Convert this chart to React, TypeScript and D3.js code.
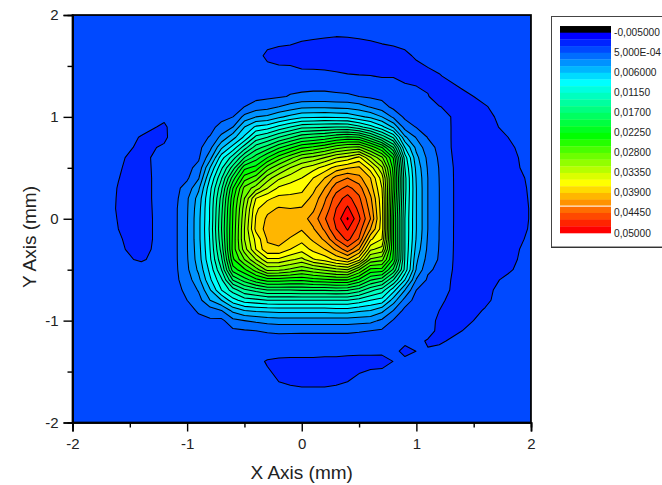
import React, { useEffect, useRef } from 'react';
import * as d3 from 'd3';

const width = 662;
const height = 485;
const margin = { top: 15, right: 131, bottom: 63, left: 72.5 };

const xTicks = [-2, -1, 0, 1, 2];
const yTicks = [-2, -1, 0, 1, 2];
const minorTicks = [-1.5, -0.5, 0.5, 1.5];

// grid node positions in mm, finer where the rings are
const xNodes = [-2, -1.8, -1.6, -1.4, -1.2, -1.1, -1, -0.9, -0.8, -0.7, -0.6, -0.5, -0.4, -0.3, -0.2, -0.1, 0, 0.1, 0.2, 0.3, 0.4, 0.5, 0.6, 0.7, 0.8, 0.9, 1, 1.1, 1.2, 1.4, 1.6, 1.8, 2];
const yNodes = [2, 1.8, 1.6, 1.4, 1.2, 1.1, 1, 0.9, 0.8, 0.7, 0.6, 0.5, 0.4, 0.3, 0.2, 0.1, 0, -0.1, -0.2, -0.3, -0.4, -0.5, -0.6, -0.7, -0.8, -0.9, -1, -1.1, -1.2, -1.3, -1.4, -1.6, -1.8, -2];

const b = 2.73; // flat background, z = 0
const zRows = [
  [b, b, b, b, b, b, b, b, b, b, b, b, b, b, b, b, b, b, b, b, b, b, b, b, b, b, b, b, b, b, b, b, b],
  [b, b, b, b, b, b, b, b, b, b, b, b, b, b, b, 2.5, 2.2, 2.15, 2.1, 2.05, 2.08, 2.15, 2.25, 2.5, b, b, b, b, b, b, b, b, b],
  [b, b, b, b, b, b, b, b, b, b, b, b, 2.5, 1.7, 1.4, 1.45, 1.5, 1.4, 1.3, 1.25, 1.2, 1.25, 1.3, 1.3, 1.33, 1.7, 2.2, b, b, b, b, b, b],
  [b, b, b, b, b, b, b, b, b, b, b, b, b, b, b, 2.6, 2.27, 2.3, 2.3, 2.2, 2.1, 2.05, 2.02, 1.95, 1.95, 1.6, 1.3, 1.45, 1.9, b, b, b, b],
  [b, b, b, b, b, b, b, b, b, b, b, b, b, 2.8, 2.9, 3.05, 3.2, 3.25, 3.25, 3.2, 3.15, 3, 2.85, b, b, b, b, 2.1, 1.2, 1.6, 2.4, b, b],
  [b, b, b, b, b, b, b, b, b, b, b, 3, 3.4, 3.6, 4, 4.4, 4.75, 4.8, 4.8, 4.7, 4.65, 4.4, 3.9, 3.4, b, b, b, 2.6, 2.05, 1.35, 1.9, b, b],
  [b, b, b, b, 2.3, b, b, b, b, b, 3, 4.3, 5, 5.2, 5.8, 6.3, 6.75, 6.8, 6.9, 6.8, 6.7, 6.2, 5.8, 5, 3.8, 2.8, 2.6, 2.7, 2.7, 1.3, 1.5, b, b],
  [b, b, b, 2.5, 1.75, b, b, b, b, 3.3, 4, 6, 7.2, 7.5, 8.3, 9, 9.7, 9.8, 9.9, 10, 10, 9.3, 8.4, 7.3, 5.8, 3.6, 2.95, 2.75, b, 1.3, 1.3, 2.5, b],
  [b, b, b, 1.9, 1.7, b, b, b, 3.05, 4.3, 5.6, 7.2, 9.3, 10, 11, 11.8, 12.7, 13, 13.3, 13.9, 14.2, 14, 12.5, 10.7, 8.8, 5.2, 3.9, 2.95, b, 1.3, 1.25, 2, b],
  [b, b, b, 1.6, 2.2, b, b, b, 3.7, 5.8, 7.4, 9.5, 11.5, 12.5, 13.8, 14.8, 15.8, 16.2, 16.8, 17.6, 18.1, 18.3, 16.7, 15, 12, 7, 4.7, 3.4, 2.75, 1.3, 1.2, 1.7, b],
  [b, b, 2.21, 1.5, b, b, b, 2.85, 4.6, 7.6, 9.5, 12, 13.5, 15, 16.5, 17.7, 18.85, 19.3, 20, 20.9, 21.4, 22.3, 20.1, 18.2, 14.9, 8.5, 5.3, 3.75, 2.85, 1.35, 1.2, 1.4, b],
  [b, b, 2.11, 1.45, b, b, b, 3.3, 6, 8.8, 11.5, 14.7, 15.4, 17.5, 18.8, 20, 20.95, 21.6, 22.4, 23.4, 23.9, 24.2, 22.5, 20.2, 15.6, 9, 5.7, 3.9, 2.95, 1.4, 1.2, 1.3, 2.65],
  [b, b, 2.03, 1.4, b, b, 2.85, 3.9, 7, 9.9, 13.5, 16.5, 17.5, 19.5, 20.8, 21.5, 22, 23, 24, 25.4, 26, 25.3, 24, 21.5, 15.9, 9.3, 5.9, 4, 2.98, 1.4, 1.2, 1.2, 2.3],
  [b, b, 1.95, 1.4, b, b, 3.4, 4.8, 7.7, 10.8, 15, 18.3, 19.5, 21, 22.2, 22.5, 22.7, 23.7, 25, 26.6, 27.3, 26.5, 24.5, 22, 15.8, 9.3, 6, 4, 3, 1.4, 1.15, 1.15, 2.2],
  [b, b, 1.92, 1.4, b, 2.75, 3.85, 5.4, 8, 11.4, 15.7, 19, 22, 22.8, 23.3, 23.3, 23.4, 24.3, 25.8, 27.5, 28.4, 27.2, 25.2, 22.3, 15.5, 9.2, 6, 4, 3, 1.4, 1.1, 1.1, 2.15],
  [b, b, 1.9, 1.35, b, 2.85, 3.9, 5.6, 8.1, 11.7, 16, 19.5, 22.8, 23.7, 24.1, 24, 24.1, 24.8, 26.3, 28, 29.2, 27.7, 25.6, 22.4, 15.2, 9.1, 6, 4, 3, 1.4, 1.1, 1.1, 2.1],
  [b, b, 1.95, 1.3, b, 2.85, 3.93, 5.7, 8.1, 11.9, 16.1, 19.8, 23.1, 24.2, 24.6, 24.7, 24.6, 25.4, 26.9, 28.3, 30.1, 28.2, 26, 22.5, 15, 9, 6, 4, 3, 1.4, 1.1, 1.1, 2.1],
  [b, b, 2, 1.3, b, 2.85, 3.95, 5.7, 8.2, 12, 16.2, 20, 23.3, 24.4, 24.7, 24.5, 24.1, 24.9, 26.2, 28, 29.1, 27.6, 25, 22.5, 15, 9, 6, 4, 2.98, 1.4, 1.1, 1.15, 2.15],
  [b, b, 2.15, 1.3, b, 2.85, 3.95, 5.7, 8.1, 11.8, 16.3, 20, 22.3, 24.1, 24.4, 23.9, 23.35, 24.2, 25.2, 27, 28.3, 26.9, 23.2, 22, 15, 9, 5.9, 3.9, 2.98, 1.4, 1.2, 1.3, 2.3],
  [b, b, 2.24, 1.45, b, 2.85, 3.95, 5.6, 8, 11.4, 16.4, 19.5, 22, 23.8, 23.8, 23, 22.4, 23.3, 24, 25.2, 26.6, 25, 21.2, 20.6, 15, 9, 5.6, 3.8, 2.95, 1.4, 1.2, 1.4, 2.6],
  [b, b, 2.4, 1.8, b, 2.85, 3.9, 5.5, 7.8, 10.8, 15.8, 18, 20, 21.8, 21.8, 21.2, 20.7, 21.9, 22.4, 23.3, 24, 22.3, 18.8, 18.3, 14.8, 8.9, 5.2, 3.6, 2.9, 1.4, 1.3, 1.5, b],
  [b, b, b, b, b, 2.82, 3.8, 5.2, 7.3, 10, 14.5, 15.8, 17.5, 19.3, 19.2, 18.8, 18.2, 18.7, 19.2, 19.7, 20, 18, 15.7, 15.6, 12.8, 8.7, 4.9, 3.15, 2.8, 1.4, 1.35, 1.8, b],
  [b, b, b, b, b, 2.8, 3.5, 4.7, 6.8, 8.8, 12.1, 13.5, 14.7, 15.5, 15.5, 15.3, 15.2, 15.6, 15.8, 16, 16, 14.8, 13.1, 12.4, 10, 7, 3.9, 2.85, 2.6, 1.4, 1.5, 2.3, b],
  [b, b, b, b, b, 2.75, 3.2, 4.1, 5.9, 8, 9.5, 10.8, 11.4, 12, 12, 12, 12.1, 12.1, 12.1, 12.2, 12.1, 11.5, 10.3, 9.5, 7.4, 5, 3, 2.7, 2.5, 1.4, 1.6, b, b],
  [b, b, b, b, b, b, 3, 3.6, 5, 6, 7.6, 8.5, 8.7, 9, 9, 9, 9, 9, 9, 9, 9, 8.6, 8, 7.6, 5.5, 3.6, 2.6, 2.6, 2.2, 1.4, 1.75, b, b],
  [b, b, b, b, b, b, b, 3.1, 3.5, 4, 5.3, 6, 6.2, 6.3, 6.4, 6.4, 6.4, 6.4, 6.4, 6.5, 6.5, 6.2, 6, 5.3, 4, 2.7, 2.6, 2.6, 2, 1.35, 2.1, b, b],
  [b, b, b, b, b, b, b, 2.8, 2.85, 2.75, 3.7, 4, 4.2, 4.4, 4.5, 4.5, 4.5, 4.5, 4.5, 4.5, 4.5, 4.4, 4.3, 3.8, 2.9, 2.6, 2.6, 2.6, 1.7, 1.3, b, b, b],
  [b, b, b, b, b, b, b, b, b, b, 2.8, 2.9, 3, 3.1, 3.2, 3.2, 3.2, 3.2, 3.2, 3.2, 3.2, 3.1, 3, 2.85, 2.6, 2.6, 2.5, 2.6, 1.6, 2, b, b, b],
  [b, b, b, b, b, b, b, b, b, b, b, 2.65, 2.6, 2.6, 2.5, 2.45, 2.4, 2.4, 2.4, 2.4, 2.4, 2.4, 2.45, 2.5, 2.5, 2.4, 2.4, 1.85, 1.7, b, b, b, b],
  [b, b, b, b, b, b, b, b, b, b, b, b, b, 2.5, 2.3, 2.25, 2.25, 2.25, 2.25, 2.25, 2.2, 2.2, 2.2, 2.25, 2.5, 1.5, 2.02, 2.1, 2.5, b, b, b, b],
  [b, b, b, b, b, b, b, b, b, b, b, b, 2.3, 1.9, 1.85, 1.85, 1.85, 1.85, 1.8, 1.8, 1.75, 1.7, 1.7, 1.6, 2.02, 2.45, b, b, b, b, b, b, b],
  [b, b, b, b, b, b, b, b, b, b, b, b, b, 2.3, 2, 1.85, 1.75, 1.75, 1.75, 1.85, 2, 2.2, 2.45, b, b, b, b, b, b, b, b, b, b],
  [b, b, b, b, b, b, b, b, b, b, b, b, b, b, b, b, b, b, b, b, b, b, b, b, b, b, b, b, b, b, b, b, b],
  [b, b, b, b, b, b, b, b, b, b, b, b, b, b, b, b, b, b, b, b, b, b, b, b, b, b, b, b, b, b, b, b, b],
];

const legendLabels = ['-0,005000', '5,000E-04', '0,006000', '0,01150', '0,01700', '0,02250', '0,02800', '0,03350', '0,03900', '0,04450', '0,05000'];

const levelCount = 30;
const rampStops = [1, 8, 16, 23, 30];
const rampColors = ['#0000ff', '#00ffff', '#00ff00', '#ffff00', '#ff0000'];

const App = () => {
  const svgRef = useRef<SVGSVGElement>(null);

  useEffect(() => {
    const svg = d3.select(svgRef.current);
    svg.selectAll('*').remove();

    const innerWidth = 531 - margin.left;
    const innerHeight = height - margin.top - margin.bottom + 0.5;
    const font = 'Arial, "Liberation Sans", sans-serif';

    const x = d3.scaleLinear().domain([-2, 2]).range([margin.left, margin.left + innerWidth]);
    const y = d3.scaleLinear().domain([-2, 2]).range([margin.top + innerHeight, margin.top]);

    const band = d3.scaleLinear<string>().domain(rampStops).range(rampColors);
    const bandColor = (i: number) => (i === 0 ? '#000000' : band(i));

    // d3.contours puts a value at index + 0.5, nodes are not evenly spaced so go through index scales
    const xIndex = d3.scaleLinear().domain(d3.range(xNodes.length)).range(xNodes).clamp(true);
    const yIndex = d3.scaleLinear().domain(d3.range(yNodes.length)).range(yNodes).clamp(true);
    const project = d3.geoTransform({
      point(px: number, py: number) {
        this.stream.point(x(xIndex(px - 0.5)), y(yIndex(py - 0.5)));
      },
    });
    const path = d3.geoPath(project);

    const contours = d3
      .contours()
      .size([xNodes.length, yNodes.length])
      .smooth(true)
      .thresholds(d3.range(levelCount + 1))(zRows.flat());

    svg
      .append('defs')
      .append('clipPath')
      .attr('id', 'plot-clip')
      .append('rect')
      .attr('x', margin.left)
      .attr('y', margin.top)
      .attr('width', innerWidth)
      .attr('height', innerHeight);

    const plot = svg.append('g').attr('clip-path', 'url(#plot-clip)');
    plot
      .append('rect')
      .attr('x', margin.left)
      .attr('y', margin.top)
      .attr('width', innerWidth)
      .attr('height', innerHeight)
      .attr('fill', bandColor(2));

    contours.forEach((c, i) => {
      if (!c.coordinates.length) return;
      plot
        .append('path')
        .attr('d', path(c))
        .attr('fill', bandColor(i + 1))
        .attr('stroke', '#000')
        .attr('stroke-width', 1.05)
        .attr('stroke-linejoin', 'round');
    });

    // frame
    svg
      .append('rect')
      .attr('x', margin.left)
      .attr('y', margin.top)
      .attr('width', innerWidth)
      .attr('height', innerHeight)
      .attr('fill', 'none')
      .attr('stroke', '#000')
      .attr('stroke-width', 1.7);

    // axes, major and minor ticks
    const bottom = svg.append('g').attr('transform', `translate(0,${margin.top + innerHeight})`);
    bottom.call(d3.axisBottom(x).tickValues(xTicks).tickSize(9).tickPadding(7).tickFormat(d3.format('d')));
    const bottomMinor = svg.append('g').attr('transform', `translate(0,${margin.top + innerHeight})`);
    bottomMinor.call(d3.axisBottom(x).tickValues(minorTicks).tickSize(5).tickFormat(() => ''));
    const left = svg.append('g').attr('transform', `translate(${margin.left},0)`);
    left.call(d3.axisLeft(y).tickValues(yTicks).tickSize(9).tickPadding(5).tickFormat(d3.format('d')));
    const leftMinor = svg.append('g').attr('transform', `translate(${margin.left},0)`);
    leftMinor.call(d3.axisLeft(y).tickValues(minorTicks).tickSize(5).tickFormat(() => ''));

    svg.selectAll('.domain').attr('stroke-width', 1.7);
    svg.selectAll('.tick line').attr('stroke-width', 1.4);
    svg
      .selectAll('.tick text')
      .attr('font-family', font)
      .attr('font-size', 15)
      .attr('fill', '#222')
      .text(function () {
        return d3.select(this).text().replace('\u2212', '-');
      });

    svg
      .append('text')
      .attr('x', x(0))
      .attr('y', 479)
      .attr('text-anchor', 'middle')
      .attr('font-family', font)
      .attr('font-size', 19)
      .attr('fill', '#222')
      .text('X Axis (mm)');
    svg
      .append('text')
      .attr('transform', 'translate(36,237) rotate(-90)')
      .attr('text-anchor', 'middle')
      .attr('font-family', font)
      .attr('font-size', 19)
      .attr('fill', '#222')
      .text('Y Axis (mm)');

    // legend
    const legend = svg.append('g');
    legend
      .append('rect')
      .attr('x', 551.5)
      .attr('y', 16.5)
      .attr('width', 120)
      .attr('height', 230.5)
      .attr('fill', '#fff')
      .attr('stroke', '#444');
    legend
      .append('line')
      .attr('x1', 551)
      .attr('x2', 662)
      .attr('y1', 247.5)
      .attr('y2', 247.5)
      .attr('stroke', '#333')
      .attr('stroke-width', 1);

    const legendScale = d3.scaleLinear().domain([0, levelCount]).range([32.7, 233]);
    d3.range(levelCount + 1).forEach(i => {
      legend
        .append('rect')
        .attr('x', 560)
        .attr('y', legendScale(i - 1))
        .attr('width', 51)
        .attr('height', legendScale(1) - legendScale(0) + 0.3)
        .attr('fill', bandColor(i));
    });
    legend
      .append('rect')
      .attr('x', 560)
      .attr('y', 205.6)
      .attr('width', 51)
      .attr('height', 1)
      .attr('fill', '#fff');
    legendLabels.forEach((label, i) => {
      legend
        .append('text')
        .attr('x', 614)
        .attr('y', legendScale(i * 3) + 3.5)
        .attr('font-family', font)
        .attr('font-size', 10.2)
        .attr('fill', '#222')
        .text(label);
    });
  }, []);

  return (
    <svg
      ref={svgRef}
      width={width}
      height={height}
      style={{ position: 'absolute', left: 0, top: 0, background: '#fff' }}
    ></svg>
  );
};

export default App;
